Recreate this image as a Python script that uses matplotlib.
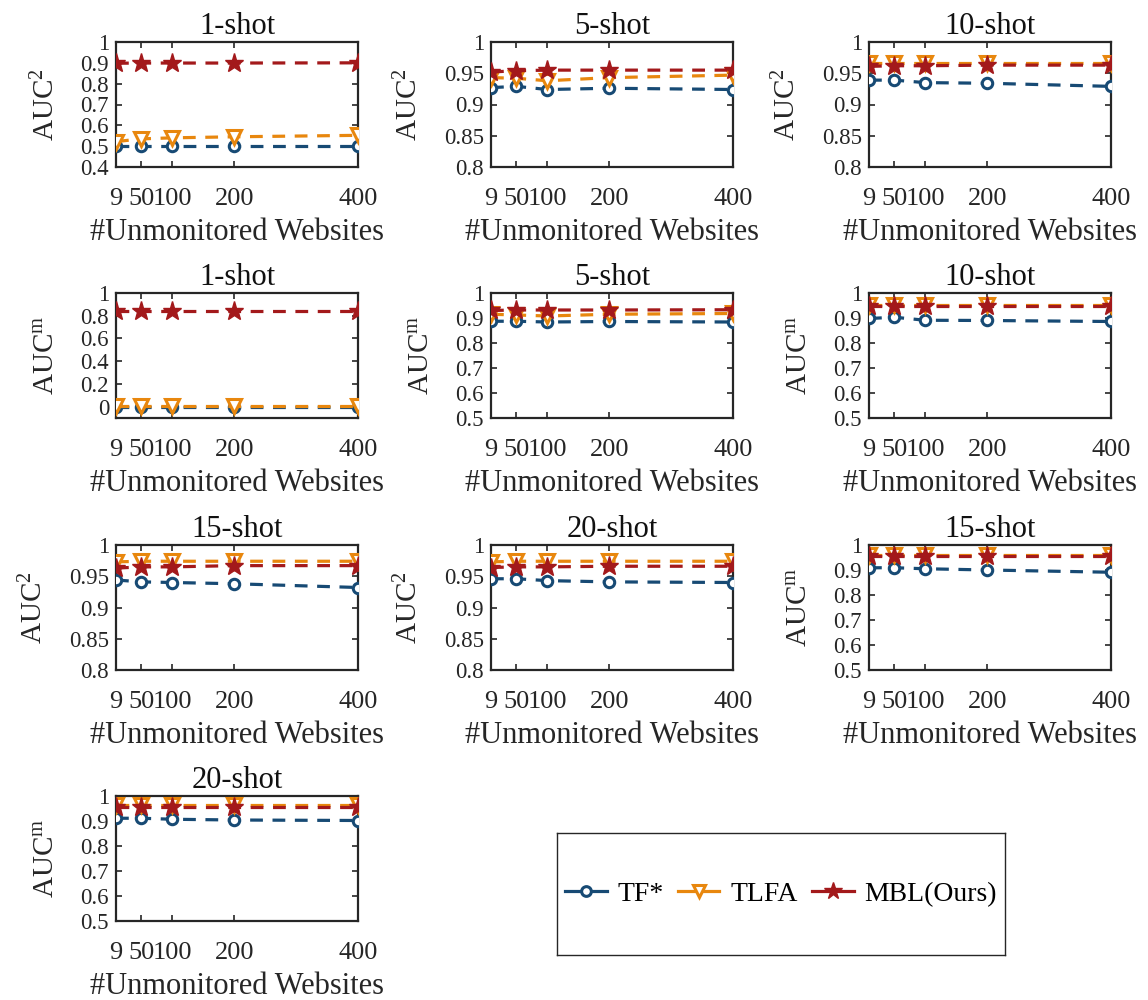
import matplotlib
matplotlib.use("Agg")
import matplotlib.pyplot as plt
from matplotlib.lines import Line2D

plt.rcParams['font.family'] = ['Liberation Serif', 'DejaVu Serif']
plt.rcParams['mathtext.fontset'] = 'custom'
plt.rcParams['mathtext.rm'] = 'Liberation Serif'
plt.rcParams['mathtext.it'] = 'Liberation Serif:italic'

x_vals = [9, 50, 100, 200, 400]
x_ticks = [9, 50, 100, 200, 400]

titles = ["1-shot", "5-shot", "10-shot", "1-shot", "5-shot", "10-shot",
          "15-shot", "20-shot", "15-shot", "20-shot"]
ylabels = ["AUC$^{2}$", "AUC$^{2}$", "AUC$^{2}$", "AUC$^{\\mathrm{m}}$", "AUC$^{\\mathrm{m}}$",
           "AUC$^{\\mathrm{m}}$", "AUC$^{2}$", "AUC$^{2}$", "AUC$^{\\mathrm{m}}$", "AUC$^{\\mathrm{m}}$"]

tf_vals = [
    [0.500, 0.500, 0.500, 0.500, 0.500],
    [0.927, 0.929, 0.924, 0.926, 0.924],
    [0.939, 0.939, 0.935, 0.934, 0.929],
    [0.000, 0.000, 0.000, 0.000, 0.000],
    [0.887, 0.887, 0.884, 0.886, 0.884],
    [0.898, 0.903, 0.891, 0.890, 0.886],
    [0.944, 0.941, 0.940, 0.938, 0.932],
    [0.946, 0.946, 0.943, 0.941, 0.940],
    [0.909, 0.909, 0.905, 0.900, 0.891],
    [0.911, 0.911, 0.907, 0.904, 0.902],
]
tlfa_vals = [
    [0.522, 0.535, 0.540, 0.545, 0.552],
    [0.943, 0.942, 0.938, 0.943, 0.947],
    [0.966, 0.966, 0.966, 0.966, 0.966],
    [0.002, 0.002, 0.002, 0.002, 0.002],
    [0.915, 0.912, 0.908, 0.915, 0.918],
    [0.953, 0.953, 0.953, 0.953, 0.953],
    [0.973, 0.974, 0.974, 0.974, 0.974],
    [0.973, 0.974, 0.974, 0.974, 0.974],
    [0.962, 0.962, 0.962, 0.962, 0.962],
    [0.964, 0.964, 0.964, 0.964, 0.964],
]
mbl_vals = [
    [0.898, 0.899, 0.899, 0.899, 0.900],
    [0.952, 0.954, 0.955, 0.955, 0.955],
    [0.961, 0.962, 0.962, 0.963, 0.963],
    [0.843, 0.843, 0.843, 0.843, 0.843],
    [0.930, 0.932, 0.932, 0.932, 0.933],
    [0.949, 0.949, 0.949, 0.949, 0.949],
    [0.963, 0.965, 0.965, 0.967, 0.967],
    [0.964, 0.965, 0.965, 0.966, 0.966],
    [0.956, 0.956, 0.956, 0.956, 0.956],
    [0.958, 0.958, 0.958, 0.958, 0.958],
]
ylims = [(0.4, 1), (0.8, 1), (0.8, 1), (-0.1, 1), (0.5, 1), (0.5, 1),
         (0.8, 1), (0.8, 1), (0.5, 1), (0.5, 1)]
yticks = [
    [0.4, 0.5, 0.6, 0.7, 0.8, 0.9, 1],
    [0.8, 0.85, 0.9, 0.95, 1],
    [0.8, 0.85, 0.9, 0.95, 1],
    [0, 0.2, 0.4, 0.6, 0.8, 1],
    [0.5, 0.6, 0.7, 0.8, 0.9, 1],
    [0.5, 0.6, 0.7, 0.8, 0.9, 1],
    [0.8, 0.85, 0.9, 0.95, 1],
    [0.8, 0.85, 0.9, 0.95, 1],
    [0.5, 0.6, 0.7, 0.8, 0.9, 1],
    [0.5, 0.6, 0.7, 0.8, 0.9, 1],
]
series_names = ["TF*", "TLFA", "MBL(Ours)"]
colors = ["#174a74", "#e8870e", "#a3191b"]

W, H = 1148, 1000
fig = plt.figure(figsize=(W / 100, H / 100), dpi=100)

col_left = [116, 491, 869]
row_top = [42, 293, 545, 796]
aw, ah = 242, 125

LS = (0, (4, 3))
LW = 2.3

for i in range(10):
    r, c = divmod(i, 3)
    ax = fig.add_axes([col_left[c] / W, 1 - (row_top[r] + ah) / H, aw / W, ah / H])
    ax.plot(x_vals, tf_vals[i], linestyle=LS, color=colors[0], lw=LW,
            marker='o', markersize=7.5, markerfacecolor='white', markeredgewidth=2.2, zorder=3)
    ax.plot(x_vals, tlfa_vals[i], linestyle=LS, color=colors[1], lw=LW,
            marker='v', markersize=9.5, markerfacecolor='white', markeredgewidth=2.2, zorder=4)
    ax.plot(x_vals, mbl_vals[i], linestyle=LS, color=colors[2], lw=LW,
            marker='*', markersize=14, markerfacecolor=colors[2], markeredgewidth=1, zorder=5)
    ax.set_xlim(9, 400)
    ax.set_ylim(*ylims[i])
    ax.set_xticks(x_ticks)
    ax.set_xticklabels([str(t) for t in x_ticks])
    ylabs = ["%g" % t for t in yticks[i]]
    ax.set_yticks(yticks[i])
    ax.set_yticklabels(ylabs)
    ax.tick_params(direction='in', top=True, right=True, length=4, width=1.2,
                   colors='#262626')
    ax.tick_params(axis='x', labelsize=19, pad=15)
    ax.tick_params(axis='y', labelsize=16.5, pad=5)
    for sp in ax.spines.values():
        sp.set_linewidth(1.6)
        sp.set_color('#262626')
    ax.set_title(titles[i], fontsize=22, color='#111111', pad=6)
    ax.set_ylabel(ylabels[i], fontsize=21, color='#262626')
    maxlen = max(len(s) for s in ylabs)
    off_px = -68 if maxlen >= 4 else -56
    ax.yaxis.set_label_coords(off_px / aw, 0.5)
    ax.set_xlabel("#Unmonitored Websites", fontsize=22, color='#262626', labelpad=6)

# legend box
lax = fig.add_axes([557 / W, 1 - 955 / H, 448 / W, 122 / H])
lax.set_xticks([])
lax.set_yticks([])
for sp in lax.spines.values():
    sp.set_linewidth(1.0)
    sp.set_color('#262626')
handles = [
    Line2D([], [], color=colors[0], lw=LW, marker='o', markersize=7, markerfacecolor='white', markeredgewidth=2.2),
    Line2D([], [], color=colors[1], lw=LW, marker='v', markersize=9, markerfacecolor='white', markeredgewidth=2.2),
    Line2D([], [], color=colors[2], lw=LW, marker='*', markersize=13, markerfacecolor=colors[2], markeredgewidth=1),
]
lax.legend(handles, series_names, loc='center', ncol=3, frameon=False, fontsize=20,
           handlelength=1.5, handletextpad=0.4, columnspacing=0.5)

fig.savefig("out.png", dpi=100)
